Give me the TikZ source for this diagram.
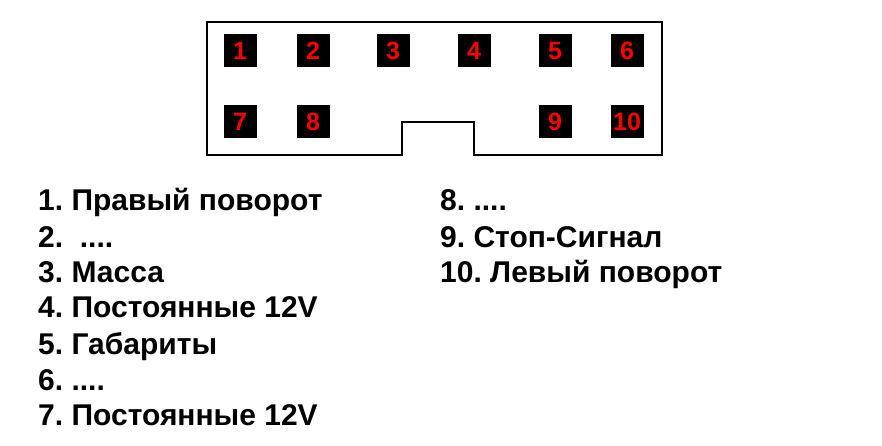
\documentclass[tikz,border=0pt]{standalone}
\usepackage{fontspec}
\setmainfont{Liberation Sans}
\usepackage{tikz}
\frenchspacing
\begin{document}
\begin{tikzpicture}[x=1pt,y=-1pt,
  pin/.style={fill=black, minimum size=33pt, inner sep=0pt, text=red, font=\bfseries\fontsize{25}{28}\selectfont},
  item/.style={anchor=base west, inner sep=0pt, font=\bfseries\fontsize{30}{32}\selectfont}]
\useasboundingbox (0,0) rectangle (882,446);
% connector outline
\draw[line width=2pt] (402,155) -- (207,155) -- (207,22) -- (662,22) -- (662,155) -- (474,155) -- (474,122) -- (402,122) -- cycle;
\node[pin] (1) at (240,51) {1};
\node[pin] (2) at (313,51) {2};
\node[pin] (3) at (393,51) {3};
\node[pin] (4) at (474,51) {4};
\node[pin] (5) at (555,51) {5};
\node[pin] (6) at (627,51) {6};
	\node[pin] (7) at (240,122) {7};
	\node[pin] (8) at (313,122) {8};
	\node[pin] (9) at (555,122) {9};
	\node[pin] (10) at (627,122) {10};
% legend
\node[item] (l1) at (38,211) {1. Правый поворот};
\node[item] (l2) at (38,247) {2. \ ....};
\node[item] (l3) at (38,282) {3. Масса};
\node[item] (l4) at (38,317) {4. Постоянные 12V};
\node[item] (l5) at (38,354) {5. Габариты};
\node[item] (l6) at (38,390) {6. ....};
\node[item] (l7) at (38,425) {7. Постоянные 12V};
	\node[item] (l8) at (440,211) {8. ....};
	\node[item] (l9) at (440,247) {9. Стоп-Сигнал};
	\node[item] (l10) at (440,282) {10. Левый поворот};
\end{tikzpicture}
\end{document}
